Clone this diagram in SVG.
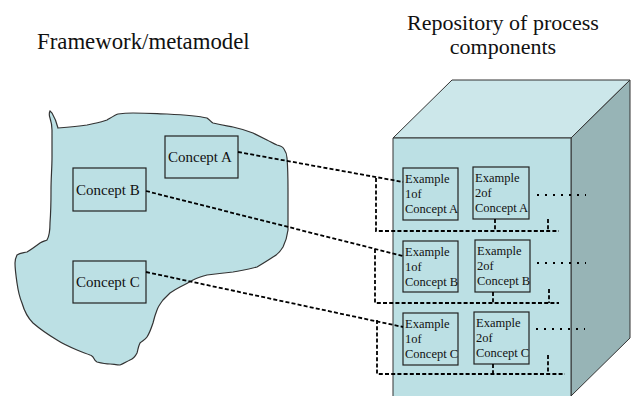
<svg xmlns="http://www.w3.org/2000/svg" width="632" height="396" viewBox="0 0 632 396">
  <style>
    .title { font-family: "Liberation Serif", "Times New Roman", serif; font-size: 22px; fill: #111; }
    .concept { font-family: "Liberation Serif", "Times New Roman", serif; font-size: 15px; fill: #111; }
    .ex { font-family: "Liberation Serif", "Times New Roman", serif; font-size: 12.5px; fill: #111; }
    .box { fill: #BCE0E4; stroke: #222; stroke-width: 1.2; }
    .dash { fill: none; stroke: #000; stroke-width: 1.8; stroke-dasharray: 4 2.2; }
    .dots { fill: none; stroke: #000; stroke-width: 2; stroke-dasharray: 2 6; }
  </style>

  <!-- titles -->
  <text class="title" x="37" y="49" style="font-size:22.8px">Framework/metamodel</text>
  <text class="title" x="503" y="30" text-anchor="middle">Repository of process</text>
  <text class="title" x="503" y="54" text-anchor="middle">components</text>

  <!-- framework / metamodel region -->
  <g id="framework">
    <path d="M50,111 L52,113 C55,118 57,124 58,128 C70,127 80,126 87,125 C96,123 102,122 107,120 C112,117 115,115 118,114 C125,113 130,113 133,113 C150,113 160,114 167,114 C185,115 198,116 207,118 C210,120 211,122 213,123 C222,125 228,126 233,127 C242,129 248,131 253,133 C259,136 263,138 267,140 C271,142 274,144 277,145 C281,146 283,147 284,149 C286,152 287,155 287,158 C288,170 288,180 288,190 C288,205 288,220 288,230 C287,238 285,243 283,247 C280,252 277,255 273,257 C267,261 262,264 257,267 C249,269 241,271 233,272 C222,273 214,274 207,275 C200,277 197,278 193,280 C188,283 184,285 180,287 C176,289 173,291 170,293 C167,296 165,298 163,300 C160,304 158,307 157,310 C155,315 154,319 153,323 C151,329 149,334 147,337 C145,340 142,341 140,343 C138,347 138,350 137,353 C135,357 133,359 130,360 C126,362 123,364 120,365 C116,365 113,364 110,364 C105,364 101,363 97,362 C95,361 94,359 93,357 C92,356 91,355 90,355 C85,353 81,352 77,350 C70,347 63,344 57,340 C47,334 40,329 33,323 C27,317 24,310 22,303 C19,296 18,290 17,283 C16,276 15,269 15,263 C15,259 16,257 17,255 C20,253 23,253 27,252 C32,249 36,246 40,243 C43,241 45,241 47,240 C50,235 50,229 50,223 C51,210 51,200 51,190 C51,178 52,168 52,157 C52,147 52,138 52,130 C52,125 51,121 50,118 C49,115 49,113 50,111 Z" fill="#BCE0E4" stroke="#333" stroke-width="1.2"/>
  </g>

  <g id="concept-a">
    <rect class="box" x="165" y="136" width="73" height="42"/>
    <text class="concept" x="168" y="162">Concept A</text>
  </g>
  <g id="concept-b">
    <rect class="box" x="73" y="168" width="73" height="43"/>
    <text class="concept" x="76" y="195">Concept B</text>
  </g>
  <g id="concept-c">
    <rect class="box" x="73" y="261" width="73" height="42"/>
    <text class="concept" x="76" y="287">Concept C</text>
  </g>

  <!-- repository drawn as a box in perspective -->
  <g id="repository">
    <polygon points="393,138 452,80 630,80 571,138" fill="#CCE7EA" stroke="#333" stroke-width="1"/>
    <polygon points="571,138 630,80 630,338 571,396" fill="#97B4B6" stroke="#333" stroke-width="1"/>
    <polygon points="393,138 571,138 571,400 393,400" fill="#BCE0E4" stroke="#333" stroke-width="1"/>
  </g>

  <g id="example-1-a">
    <rect class="box" x="403" y="168" width="55" height="52"/>
    <text class="ex" x="405" y="183">Example</text>
    <text class="ex" x="405" y="198">1of</text>
    <text class="ex" x="405" y="213">Concept A</text>
  </g>
  <g id="example-2-a">
    <rect class="box" x="473" y="167" width="56" height="52"/>
    <text class="ex" x="475" y="182">Example</text>
    <text class="ex" x="475" y="197">2of</text>
    <text class="ex" x="475" y="212">Concept A</text>
  </g>
  <g id="example-1-b">
    <rect class="box" x="403" y="241" width="55" height="51"/>
    <text class="ex" x="405" y="256">Example</text>
    <text class="ex" x="405" y="271">1of</text>
    <text class="ex" x="405" y="286">Concept B</text>
  </g>
  <g id="example-2-b">
    <rect class="box" x="475" y="240" width="55" height="52"/>
    <text class="ex" x="477" y="255">Example</text>
    <text class="ex" x="477" y="270">2of</text>
    <text class="ex" x="477" y="285">Concept B</text>
  </g>
  <g id="example-1-c">
    <rect class="box" x="403" y="313" width="55" height="52"/>
    <text class="ex" x="405" y="328">Example</text>
    <text class="ex" x="405" y="343">1of</text>
    <text class="ex" x="405" y="358">Concept C</text>
  </g>
  <g id="example-2-c">
    <rect class="box" x="474" y="312" width="55" height="52"/>
    <text class="ex" x="476" y="327">Example</text>
    <text class="ex" x="476" y="342">2of</text>
    <text class="ex" x="476" y="357">Concept C</text>
  </g>

  <g id="connectors">
    <!-- concept to first example -->
    <line class="dash" x1="238" y1="152" x2="403" y2="182"/>
    <line class="dash" x1="146" y1="191" x2="403" y2="256"/>
    <line class="dash" x1="146" y1="272" x2="403" y2="327"/>
    <!-- row brackets -->
    <polyline class="dash" points="376,178 376,231 559,231"/>
    <line class="dash" x1="495" y1="219" x2="495" y2="231"/>
    <line class="dash" x1="548" y1="219" x2="548" y2="231"/>
    <polyline class="dash" points="375,249 375,303 559,303"/>
    <line class="dash" x1="493" y1="292" x2="493" y2="303"/>
    <line class="dash" x1="549" y1="289" x2="549" y2="303"/>
    <polyline class="dash" points="377,320 377,374 565,374"/>
    <line class="dash" x1="493" y1="364" x2="493" y2="374"/>
    <line class="dash" x1="548" y1="355" x2="548" y2="374"/>
    <!-- continuation dots -->
    <line class="dots" x1="537" y1="195" x2="586" y2="195"/>
    <line class="dots" x1="537" y1="263" x2="586" y2="263"/>
    <line class="dots" x1="536" y1="329" x2="585" y2="329"/>
  </g>
</svg>
